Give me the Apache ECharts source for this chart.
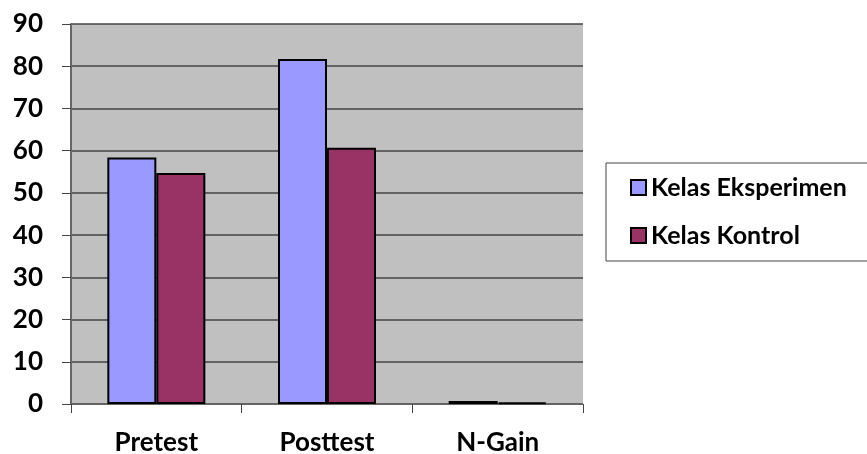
<!DOCTYPE html>
<html><head><meta charset="utf-8">
<script src="https://cdn.jsdelivr.net/npm/echarts@6/dist/echarts.min.js"></script>
<style>html,body{margin:0;padding:0;background:#fff}#c{width:867px;height:454px}</style>
</head><body><div id="c"></div>
<script>
const categories = ['Pretest', 'Posttest', 'N-Gain'];
const seriesNames = ['Kelas Eksperimen', 'Kelas Kontrol'];
const eksperimen = [58.4, 81.7, 0.7];
const kontrol = [54.7, 60.7, 0.4];
const yTicks = [0, 10, 20, 30, 40, 50, 60, 70, 80, 90];

const chart = echarts.init(document.getElementById('c'));
const font = 'Lato, "Open Sans", sans-serif';
chart.setOption({
  animation: false,
  textStyle: { fontFamily: font },
  grid: { left: 71, top: 24, width: 512, height: 380, show: true, backgroundColor: '#C0C0C0', borderWidth: 0,
    containLabel: false, outerBoundsMode: 'none' },
  legend: {
    orient: 'vertical', left: 606, top: 163,
    padding: [12, 24, 13, 24],
    borderColor: '#444', borderWidth: 1,
    itemWidth: 15, itemHeight: 15, itemGap: 23,
    icon: 'rect',
    textStyle: { fontSize: 25, fontWeight: 'bold', color: '#000', fontFamily: font },
    data: seriesNames
  },
  xAxis: {
    type: 'category', data: categories,
    axisLine: { lineStyle: { color: '#666', width: 1 } },
    axisTick: { show: true, length: 9, lineStyle: { color: '#444' } },
    axisLabel: { fontSize: 26, fontWeight: 'bold', color: '#000', margin: 26, fontFamily: font }
  },
  yAxis: {
    type: 'value', min: yTicks[0], max: yTicks[yTicks.length - 1], interval: 10,
    axisLine: { show: true, lineStyle: { color: '#666', width: 2 } },
    axisTick: { show: true, length: 9, lineStyle: { color: '#444' } },
    axisLabel: { fontSize: 26, fontWeight: 'bold', color: '#000', margin: 28, fontFamily: font },
    splitLine: { lineStyle: { color: '#444', width: 1.5 } }
  },
  series: [
    { name: seriesNames[0], type: 'bar', data: eksperimen, barWidth: 49, barGap: '0%',
      itemStyle: { color: '#9999FF', borderColor: '#000', borderWidth: 2 } },
    { name: seriesNames[1], type: 'bar', data: kontrol, barWidth: 49,
      itemStyle: { color: '#993366', borderColor: '#000', borderWidth: 2 } }
  ]
});
</script></body></html>
